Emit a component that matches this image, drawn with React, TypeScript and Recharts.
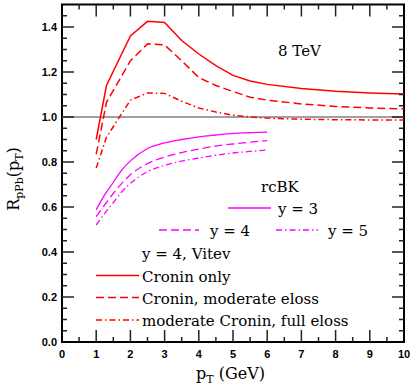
import { ComposedChart, Line, Scatter, XAxis, YAxis, ReferenceLine, ReferenceArea } from 'recharts';

// Vitev, y = 4 (red)
const vitevPt = [1, 1.3, 2, 2.5, 3, 3.5, 4, 4.5, 5, 5.5, 6, 7, 8, 9, 10];
const croninOnly = [0.9, 1.14, 1.36, 1.425, 1.42, 1.34, 1.28, 1.228, 1.185, 1.16, 1.145, 1.127, 1.114, 1.107, 1.102];
const croninModEloss = [0.835, 1.065, 1.25, 1.325, 1.32, 1.25, 1.175, 1.14, 1.113, 1.088, 1.075, 1.058, 1.047, 1.04, 1.036];
const modCroninFullEloss = [0.773, 0.91, 1.075, 1.107, 1.105, 1.07, 1.04, 1.022, 1.008, 1.0, 0.995, 0.99, 0.988, 0.987, 0.987];

// rcBK (magenta)
const rcbkPt = [1, 1.25, 1.5, 1.75, 2, 2.5, 3, 3.5, 4, 4.5, 5, 5.5, 6];
const rcbkY3 = [0.587, 0.655, 0.71, 0.765, 0.805, 0.86, 0.885, 0.9, 0.912, 0.92, 0.927, 0.93, 0.933];
const rcbkY4 = [0.557, 0.61, 0.66, 0.705, 0.743, 0.793, 0.822, 0.842, 0.857, 0.871, 0.88, 0.888, 0.895];
const rcbkY5 = [0.52, 0.572, 0.62, 0.668, 0.705, 0.757, 0.785, 0.804, 0.818, 0.83, 0.84, 0.847, 0.853];

const xTicks = [0, 1, 2, 3, 4, 5, 6, 7, 8, 9, 10];
const yTicks = [0, 0.2, 0.4, 0.6, 0.8, 1.0, 1.2, 1.4];
const xInnerMajor = [1, 2, 3, 4, 5, 6, 7, 8, 9];
const xMinorTicks = [0.5, 1.5, 2.5, 3.5, 4.5, 5.5, 6.5, 7.5, 8.5, 9.5];
const yInnerMajor = [0.2, 0.4, 0.6, 0.8, 1.0, 1.2, 1.4];
const yMinorTicks = [
  0.05, 0.1, 0.15, 0.25, 0.3, 0.35, 0.45, 0.5, 0.55, 0.65, 0.7, 0.75, 0.85, 0.9, 0.95,
  1.05, 1.1, 1.15, 1.25, 1.3, 1.35, 1.45,
];

const toPts = (xs: number[], ys: number[]) => xs.map((x, i) => ({ x, y: ys[i] }));

const RED = '#ff0000';
const MAG = '#ff00ff';
const DASH = '8 4';
const DASHDOT = '6 3 1.5 3';

const serif = 'DejaVu Serif';
const labelFont = { fill: '#000', fontSize: 11, fontWeight: 'bold', fontFamily: 'Liberation Sans' };

// inward frame ticks: anchored inside the plot at the tick's inner end,
// drawn back out to the frame (px per unit: x 34.2, y 225)
const MAJ = 12;
const MIN = 5;
const bottomMaj = xInnerMajor.map((x) => ({ x, y: MAJ / 225 }));
const bottomMin = xMinorTicks.map((x) => ({ x, y: MIN / 225 }));
const topMaj = xInnerMajor.map((x) => ({ x, y: 1.5 - MAJ / 225 }));
const topMin = xMinorTicks.map((x) => ({ x, y: 1.5 - MIN / 225 }));
const leftMaj = yInnerMajor.map((y) => ({ x: MAJ / 34.2, y }));
const leftMin = yMinorTicks.map((y) => ({ x: MIN / 34.2, y }));
const rightMaj = yInnerMajor.map((y) => ({ x: 10 - MAJ / 34.2, y }));
const rightMin = yMinorTicks.map((y) => ({ x: 10 - MIN / 34.2, y }));

const markShape = (dx: number, dy: number) => (p: any) => (
  <line x1={p.cx} y1={p.cy} x2={p.cx + dx} y2={p.cy + dy} stroke="#222" strokeWidth={1.5} />
);

export default function App() {
  return (
    <div style={{ position: 'absolute', left: 0, top: 0, width: 411, height: 390, background: '#fff' }}>
      <ComposedChart width={411} height={390} margin={{ top: 4.5, right: 7, bottom: 0, left: 0 }}>
        <XAxis
          type="number"
          dataKey="x"
          height={48}
          domain={[0, 10]}
          ticks={xTicks}
          axisLine={false}
          tickLine={false}
          tickSize={0}
          tickMargin={8}
          tick={labelFont}
        />
        <YAxis
          type="number"
          dataKey="y"
          width={62}
          domain={[0, 1.5]}
          ticks={yTicks}
          axisLine={false}
          tickLine={false}
          tickSize={0}
          tickMargin={5}
          tickFormatter={(v: number) => v.toFixed(1)}
          tick={labelFont}
        />
        <ReferenceLine y={1} stroke="#808080" strokeWidth={1.5} />
        <Scatter data={bottomMaj} dataKey="y" shape={markShape(0, MAJ)} isAnimationActive={false} />
        <Scatter data={bottomMin} dataKey="y" shape={markShape(0, MIN)} isAnimationActive={false} />
        <Scatter data={topMaj} dataKey="y" shape={markShape(0, -MAJ)} isAnimationActive={false} />
        <Scatter data={topMin} dataKey="y" shape={markShape(0, -MIN)} isAnimationActive={false} />
        <Scatter data={leftMaj} dataKey="y" shape={markShape(-MAJ, 0)} isAnimationActive={false} />
        <Scatter data={leftMin} dataKey="y" shape={markShape(-MIN, 0)} isAnimationActive={false} />
        <Scatter data={rightMaj} dataKey="y" shape={markShape(MAJ, 0)} isAnimationActive={false} />
        <Scatter data={rightMin} dataKey="y" shape={markShape(MIN, 0)} isAnimationActive={false} />
        <Line data={toPts(vitevPt, croninOnly)} dataKey="y" type="linear" stroke={RED} strokeWidth={1.5} dot={false} isAnimationActive={false} />
        <Line data={toPts(vitevPt, croninModEloss)} dataKey="y" type="linear" stroke={RED} strokeWidth={1.5} strokeDasharray={DASH} dot={false} isAnimationActive={false} />
        <Line data={toPts(vitevPt, modCroninFullEloss)} dataKey="y" type="linear" stroke={RED} strokeWidth={1.5} strokeDasharray={DASHDOT} dot={false} isAnimationActive={false} />
        <Line data={toPts(rcbkPt, rcbkY3)} dataKey="y" type="monotone" stroke={MAG} strokeWidth={1.3} dot={false} isAnimationActive={false} />
        <Line data={toPts(rcbkPt, rcbkY4)} dataKey="y" type="monotone" stroke={MAG} strokeWidth={1.3} strokeDasharray={DASH} dot={false} isAnimationActive={false} />
        <Line data={toPts(rcbkPt, rcbkY5)} dataKey="y" type="monotone" stroke={MAG} strokeWidth={1.3} strokeDasharray={DASHDOT} dot={false} isAnimationActive={false} />
        <ReferenceArea x1={0} x2={10} y1={0} y2={1.5} fill="none" stroke="#000" strokeWidth={2} />
      </ComposedChart>

      <svg width={411} height={390} style={{ position: 'absolute', left: 0, top: 0, pointerEvents: 'none' }}>
        <g fontFamily={serif} fill="#000" fontSize={15}>
          <text x={278} y={56}>8 TeV</text>
          <text x={261} y={192}>rcBK</text>

          <line x1={228} x2={271} y1={208} y2={208} stroke={MAG} strokeWidth={1.3} />
          <text x={278} y={214}>y = 3</text>
          <line x1={159} x2={199} y1={230} y2={230} stroke={MAG} strokeWidth={1.3} strokeDasharray={DASH} />
          <text x={210} y={236}>y = 4</text>
          <line x1={276} x2={318} y1={230} y2={230} stroke={MAG} strokeWidth={1.3} strokeDasharray={DASHDOT} />
          <text x={328} y={236}>y = 5</text>

          <text x={142} y={259}>y = 4, Vitev</text>
          <line x1={96} x2={139} y1={275.5} y2={275.5} stroke={RED} strokeWidth={1.5} />
          <text x={142} y={282}>Cronin only</text>
          <line x1={96} x2={139} y1={297.5} y2={297.5} stroke={RED} strokeWidth={1.5} strokeDasharray={DASH} />
          <text x={142} y={304}>Cronin, moderate eloss</text>
          <line x1={96} x2={139} y1={320} y2={320} stroke={RED} strokeWidth={1.5} strokeDasharray={DASHDOT} />
          <text x={142} y={326}>moderate Cronin, full eloss</text>

          <text x={196} y={379} fontSize={16}>
            p<tspan fontSize={11} dy={4}>T</tspan>
            <tspan dy={-4}> (GeV)</tspan>
          </text>

          <text x={19} y={179} fontSize={16} textAnchor="middle" transform="rotate(-90, 19, 179)">
            R<tspan fontSize={11} dy={4}>pPb</tspan>
            <tspan dy={-4}>(p</tspan>
            <tspan fontSize={11} dy={4}>T</tspan>
            <tspan dy={-4}>)</tspan>
          </text>
        </g>
      </svg>
    </div>
  );
}
